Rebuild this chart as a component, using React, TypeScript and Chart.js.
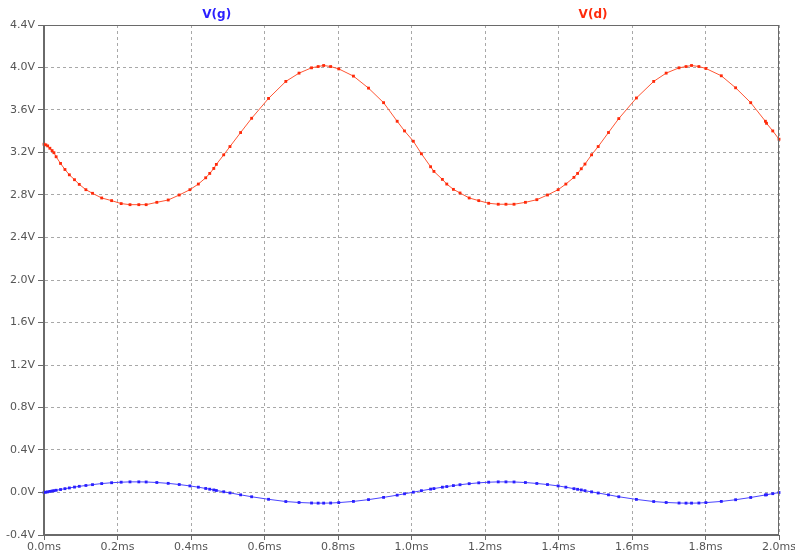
import React, { useEffect, useRef } from 'react';
import { Chart, registerables } from 'chart.js';

Chart.register(...registerables);

// Simulation time points (ms)
const timeMs = [
  0.0, 0.005, 0.01, 0.016, 0.022, 0.027, 0.033, 0.045, 0.057, 0.069, 0.083, 0.096,
  0.114, 0.132, 0.157, 0.184, 0.21, 0.234, 0.258, 0.278, 0.307, 0.338, 0.368, 0.397,
  0.42, 0.44, 0.451, 0.462, 0.469, 0.489, 0.506, 0.535, 0.565, 0.611, 0.658, 0.694,
  0.728, 0.746, 0.761, 0.78, 0.802, 0.842, 0.883, 0.924, 0.961, 0.981, 1.005, 1.027,
  1.052, 1.061, 1.084, 1.096, 1.114, 1.132, 1.157, 1.183, 1.21, 1.236, 1.257, 1.279,
  1.31, 1.341, 1.37, 1.399, 1.42, 1.442, 1.452, 1.462, 1.472, 1.49, 1.508, 1.536,
  1.564, 1.612, 1.659, 1.693, 1.728, 1.747, 1.762, 1.782, 1.801, 1.843, 1.882, 1.923,
  1.963, 1.966, 1.983, 2.0,
];

// V(d) drain voltage (V)
const vdValues = [
  3.278, 3.272, 3.262, 3.24, 3.218, 3.198, 3.16, 3.097, 3.04, 2.99, 2.944, 2.9,
  2.85, 2.816, 2.772, 2.747, 2.719, 2.709, 2.709, 2.709, 2.731, 2.753, 2.8, 2.85,
  2.903, 2.962, 3.003, 3.05, 3.088, 3.178, 3.256, 3.388, 3.522, 3.709, 3.869, 3.947,
  3.997, 4.009, 4.019, 4.009, 3.987, 3.919, 3.806, 3.669, 3.494, 3.403, 3.306, 3.188,
  3.066, 3.022, 2.947, 2.903, 2.853, 2.819, 2.772, 2.747, 2.722, 2.713, 2.713, 2.713,
  2.731, 2.756, 2.8, 2.85, 2.903, 2.966, 3.003, 3.047, 3.091, 3.178, 3.256, 3.388,
  3.519, 3.713, 3.869, 3.947, 3.997, 4.009, 4.019, 4.009, 3.991, 3.922, 3.809, 3.669,
  3.494, 3.475, 3.403, 3.325,
];

// V(g) gate voltage (V)
const vgValues = [
  0.0, 0.003, 0.006, 0.01, 0.014, 0.017, 0.021, 0.028, 0.036, 0.043, 0.051, 0.058,
  0.066, 0.074, 0.084, 0.092, 0.097, 0.1, 0.1, 0.099, 0.094, 0.086, 0.075, 0.062,
  0.05, 0.038, 0.031, 0.024, 0.019, 0.007, -0.004, -0.022, -0.04, -0.064, -0.085, -0.094,
  -0.099, -0.1, -0.1, -0.099, -0.095, -0.084, -0.067, -0.046, -0.025, -0.012, 0.003, 0.017,
  0.032, 0.037, 0.05, 0.056, 0.065, 0.073, 0.083, 0.091, 0.097, 0.1, 0.1, 0.099,
  0.094, 0.085, 0.075, 0.062, 0.05, 0.036, 0.03, 0.024, 0.017, 0.006, -0.005, -0.022,
  -0.04, -0.065, -0.085, -0.094, -0.099, -0.1, -0.1, -0.099, -0.095, -0.084, -0.068, -0.047,
  -0.023, -0.021, -0.011, 0.0,
];

const traceNames = ['V(g)', 'V(d)'];
const traceColors = ['#2a1fff', '#ff2a0a'];
const lineColors = ['#4a44ff', '#ff5533'];

const FONT = '"DejaVu Sans", Verdana, sans-serif';

const framePlugin = {
  id: 'frame',
  afterDraw(chart: any) {
    const { ctx, chartArea } = chart;
    const { left, right, top, bottom } = chartArea;
    ctx.save();
    ctx.strokeStyle = '#6a6a6a';
    ctx.lineWidth = 1;
    ctx.strokeRect(Math.round(left) - 0.5, Math.round(top) + 0.5, Math.round(right - left), Math.round(bottom - top) - 1);
    // trace labels
    ctx.font = 'bold 12px ' + FONT;
    ctx.textAlign = 'center';
    ctx.textBaseline = 'middle';
    const w = right - left;
    const fr = [0.235, 0.747];
    traceNames.forEach((n, i) => {
      ctx.fillStyle = traceColors[i];
      ctx.fillText(n, left + w * fr[i], 15);
    });
    ctx.restore();
  },
};

export default function App() {
  const ref = useRef<HTMLCanvasElement>(null);
  useEffect(() => {
    document.body.style.margin = '0';
    const mk = (vals: number[]) => timeMs.map((t, i) => ({ x: t, y: vals[i] }));
    const chart = new Chart(ref.current as HTMLCanvasElement, {
      type: 'line',
      data: {
        datasets: [
          {
            label: traceNames[0],
            data: mk(vgValues),
            borderColor: lineColors[0],
            backgroundColor: traceColors[0],
            borderWidth: 1,
            pointStyle: 'rect',
            pointRadius: 2,
            pointBorderWidth: 0,
            pointBackgroundColor: traceColors[0],
            tension: 0,
            clip: false as any,
          },
          {
            label: traceNames[1],
            data: mk(vdValues),
            borderColor: lineColors[1],
            backgroundColor: traceColors[1],
            borderWidth: 1,
            pointStyle: 'rect',
            pointRadius: 2,
            pointBorderWidth: 0,
            pointBackgroundColor: traceColors[1],
            tension: 0,
            clip: false as any,
          },
        ],
      },
      options: {
        responsive: false,
        animation: false,
        layout: { padding: { top: 25, right: 16, left: 0, bottom: 0 } },
        plugins: { legend: { display: false }, tooltip: { enabled: false } },
        scales: {
          x: {
            type: 'linear',
            min: 0,
            max: 2,
            afterFit(scale: any) {
              scale.height = 22;
              scale.paddingLeft = 0;
              scale.paddingRight = 0;
            },
            ticks: {
              stepSize: 0.2,
              autoSkip: false,
              maxRotation: 0,
              padding: 1,
              color: '#555',
              font: { family: FONT, size: 11 },
              callback: (v: any) => Number(v).toFixed(1) + 'ms',
            },
            grid: {
              color: '#a8a8a8',
              lineWidth: 1,
              tickLength: 5,
              tickColor: '#6a6a6a',
              tickBorderDash: [],
            },
            border: { display: true, color: '#6a6a6a', width: 1, dash: [3, 3] },
          },
          y: {
            type: 'linear',
            min: -0.4,
            max: 4.4,
            afterFit(scale: any) {
              scale.width = 44;
              scale.paddingTop = 0;
              scale.paddingBottom = 0;
            },
            ticks: {
              stepSize: 0.4,
              autoSkip: false,
              padding: 3,
              color: '#555',
              font: { family: FONT, size: 11 },
              callback: (v: any) => Number(v).toFixed(1) + 'V',
            },
            grid: {
              color: '#a8a8a8',
              lineWidth: 1,
              tickLength: 6,
              tickColor: '#6a6a6a',
              tickBorderDash: [],
            },
            border: { display: true, color: '#6a6a6a', width: 1, dash: [3, 3] },
          },
        },
      },
      plugins: [framePlugin],
    });
    return () => chart.destroy();
  }, []);
  return (
    <div style={{ width: 795, height: 557, background: '#fff' }}>
      <canvas ref={ref} width={795} height={557} style={{ display: 'block' }} />
    </div>
  );
}
